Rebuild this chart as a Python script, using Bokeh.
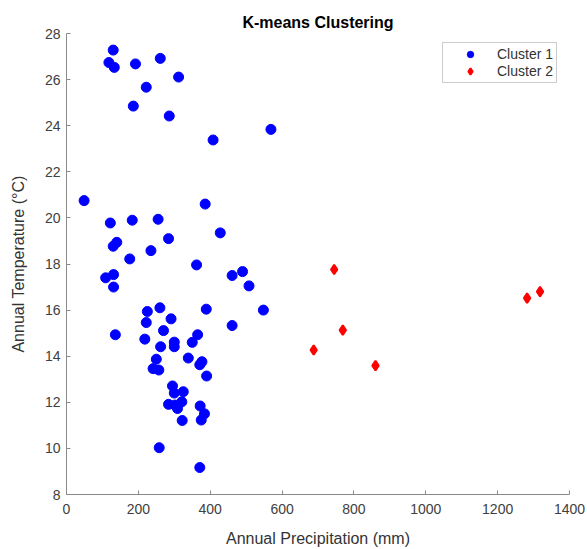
from bokeh.plotting import figure
from bokeh.models import Range1d, FixedTicker, Legend, LegendItem
from bokeh.embed import file_html
from bokeh.resources import INLINE

# Cluster 1 (blue circles)
c1_precip = [130, 118, 133, 192, 261, 312, 222, 186, 286, 408, 569,
             49, 386, 122, 183, 255, 428, 284,
             130, 140, 235, 176, 362, 109, 131, 131, 461, 490, 508, 548,
             389, 461, 260, 225, 222, 291, 270, 136, 218, 365, 350, 300,
             300, 262, 250, 339, 377, 371, 241, 257, 390, 295, 300, 325,
             284, 302, 309, 321, 372, 384, 375, 322, 258, 371]
c1_temp = [27.28, 26.74, 26.53, 26.68, 26.92, 26.11, 25.67, 24.85, 24.42, 23.38, 23.84,
           20.75, 20.60, 19.78, 19.90, 19.94, 19.35, 19.10,
           18.77, 18.94, 18.58, 18.22, 17.96, 17.40, 17.54, 17.00, 17.50, 17.67, 17.05, 16.00,
           16.04, 15.33, 16.10, 15.94, 15.46, 15.62, 15.11, 14.93, 14.74, 14.93, 14.60, 14.61,
           14.41, 14.41, 13.87, 13.92, 13.76, 13.63, 13.46, 13.40, 13.14, 12.71, 12.40, 12.46,
           11.91, 11.88, 11.73, 12.02, 11.84, 11.50, 11.23, 11.21, 10.03, 9.17]

# Cluster 2 (red diamonds)
c2_precip = [745, 1282, 1318, 769, 688, 860]
c2_temp = [17.76, 16.52, 16.80, 15.13, 14.27, 13.59]

x_ticks = [0, 200, 400, 600, 800, 1000, 1200, 1400]
y_ticks = [8, 10, 12, 14, 16, 18, 20, 22, 24, 26, 28]

FONT = "Liberation Sans"

p = figure(width=587, height=549, output_backend="svg", toolbar_location=None,
           x_range=Range1d(0, 1400), y_range=Range1d(8, 28),
           min_border_left=66, min_border_right=18, min_border_top=33, min_border_bottom=55)

p.title.text = "K-means Clustering"
p.title.align = "center"
p.title.text_font = FONT
p.title.text_font_size = "16px"
p.title.text_font_style = "bold"
p.title.text_color = "#000000"
p.title.standoff = 5

p.outline_line_color = None
p.xgrid.visible = False
p.ygrid.visible = False

for ax, ticks, lab in ((p.xaxis[0], x_ticks, "Annual Precipitation (mm)"),
                       (p.yaxis[0], y_ticks, "Annual Temperature (°C)")):
    ax.ticker = FixedTicker(ticks=ticks)
    ax.axis_label = lab
    ax.axis_label_text_font = FONT
    ax.axis_label_text_font_size = "16px"
    ax.axis_label_text_font_style = "normal"
    ax.axis_label_text_color = "#333333"
    ax.major_label_text_font = FONT
    ax.major_label_text_font_size = "14px"
    ax.major_label_text_color = "#404040"
    ax.axis_line_color = "#8a8a8a"
    ax.major_tick_line_color = "#8a8a8a"
    ax.major_tick_in = 4
    ax.major_tick_out = 0
    ax.minor_tick_line_color = None

p.xaxis[0].major_label_standoff = 9
p.yaxis[0].major_label_standoff = 6
p.xaxis[0].axis_label_standoff = 13
p.yaxis[0].axis_label_standoff = 15

r1 = p.scatter(c1_precip, c1_temp, marker="circle", size=10,
               fill_color="#0000ff", line_color="#0000ff")
r2 = p.scatter(c2_precip, c2_temp, marker="diamond", size=9.5,
               fill_color="#ff0000", line_color="#ff0000", line_width=2)

legend = Legend(items=[LegendItem(label="Cluster 1", renderers=[r1]),
                       LegendItem(label="Cluster 2", renderers=[r2])],
                location=(376, 411))
legend.label_text_font = FONT
legend.label_text_font_size = "14px"
legend.label_text_color = "#333333"
legend.padding = 3
legend.margin = 0
legend.glyph_width = 48
legend.glyph_height = 16
legend.label_height = 16
legend.label_standoff = 3
legend.spacing = 1
legend.border_line_color = "#999999"
legend.border_line_width = 1
legend.background_fill_color = "white"
legend.background_fill_alpha = 1
p.add_layout(legend)

open("out.html", "w").write(file_html(p, INLINE))
